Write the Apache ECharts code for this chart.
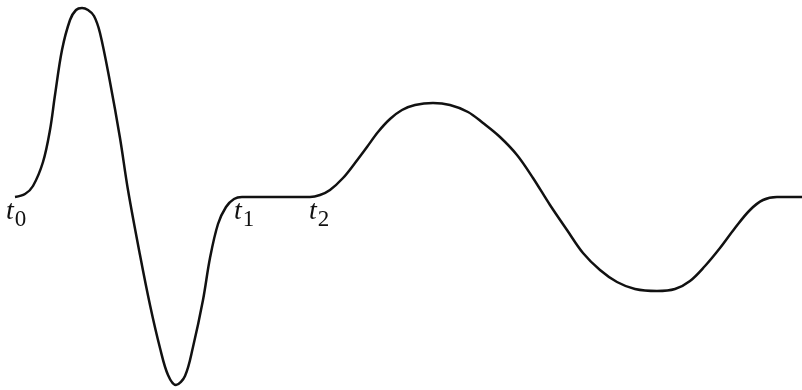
<!DOCTYPE html>
<html>
<head>
<meta charset="utf-8">
<script src="https://cdn.jsdelivr.net/npm/echarts@6/dist/echarts.min.js"></script>
<style>html,body{margin:0;padding:0;background:#fff;}#c{width:802px;height:390px;}</style>
</head>
<body>
<div id="c"></div>
<script>
// Curve samples (x, y) in drawing units (y grows downward)
var curveX = [15,25,33,43,50,55,62,70,76,82,88,94,100,110,120,128,140,150,160,168,176,185,193,203,210,218,226,234,242,310,320,330,343,355,367,378,390,402,415,433,450,468,483,500,517,533,550,567,583,600,617,635,657,675,690,705,720,735,750,763,777,802];
var curveY = [197,194,186,162,130,95,50,20,10,8,10,16,33,82,138,190,255,305,348,375,385,376,347,300,258,224,207,199,197,197,195,190,178,163,147,132,119,110,105,103,105,112,123,137,155,178,205,230,253,270,282,289,291,289,281,266,248,228,210,200,197,197];
// Time labels
var labelNames = ['0', '1', '2'];
var labelX = [6, 234, 309];
var labelY = [198, 198, 198];

var pts = curveX.map(function (x, i) { return [x, curveY[i]]; });
var marks = labelNames.map(function (n, i) {
  return { coord: [labelX[i], labelY[i]], value: n,
    label: { formatter: '{t|t}{s|' + n + '}' } };
});

var chart = echarts.init(document.getElementById('c'));
chart.setOption({
  animation: false,
  backgroundColor: '#ffffff',
  grid: { left: 0, right: 0, top: 0, bottom: 0 },
  xAxis: { type: 'value', min: 0, max: 802, show: false },
  yAxis: { type: 'value', min: 0, max: 390, inverse: true, show: false },
  series: [{
    type: 'line',
    data: pts,
    smooth: 0.35,
    showSymbol: false,
    lineStyle: { color: '#111111', width: 2.5 },
    markPoint: {
      symbol: 'circle',
      symbolSize: 0,
      data: marks,
      label: {
        show: true,
        position: 'inside',
        align: 'left',
        verticalAlign: 'top',
        rich: {
          t: { fontFamily: 'Liberation Serif', fontStyle: 'italic', fontSize: 28, color: '#111', lineHeight: 24, verticalAlign: 'top' },
          s: { fontFamily: 'Liberation Serif', fontSize: 23, color: '#111', lineHeight: 24, padding: [10, 0, 0, 1], verticalAlign: 'top' }
        }
      }
    }
  }, {
    type: 'line', data: [], showSymbol: false
  }]
});
</script>
</body>
</html>
